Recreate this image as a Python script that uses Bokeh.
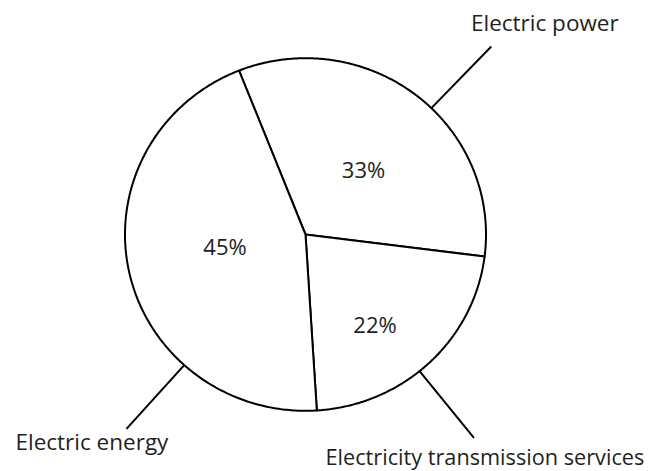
import math
import numpy as np
from bokeh.plotting import figure
from bokeh.models import Range1d
from bokeh.core.properties import value
from bokeh.embed import file_html
from bokeh.resources import INLINE

# Data
categories = ["Electric power", "Electricity transmission services", "Electric energy"]
shares = [33, 22, 45]
pct_labels = ["33%", "22%", "45%"]

# Layout (pixel space of the canvas, y grows downward)
W, H = 658, 471
CX, CY = 305.0, 234.0          # pie centre
RX, RY = 180.5, 176.3          # pie radii
START_DEG = 111.6              # first slice boundary; slices run clockwise
FONT = value("Open Sans")
TEXT_COLOR = "#231f20"

# per-category annotation layout
leader_angle = {"Electric power": 45.8,
                "Electricity transmission services": -50.8,
                "Electric energy": 227.8}
LEADER_LEN = 86.0
name_pos = {"Electric power": (470.5, 22.0),
            "Electricity transmission services": (325.0, 456.0),
            "Electric energy": (15.0, 440.5)}
name_size = {"Electric power": "22.5px",
             "Electricity transmission services": "21.7px",
             "Electric energy": "22.5px"}
pct_pos = {"Electric power": (363.0, 168.0),
           "Electricity transmission services": (374.5, 323.0),
           "Electric energy": (224.5, 245.0)}

p = figure(width=W, height=H, x_range=Range1d(0, W), y_range=Range1d(H, 0),
           output_backend="svg", toolbar_location=None, min_border=0,
           x_axis_location=None, y_axis_location=None)
p.grid.visible = False
p.outline_line_color = None
p.background_fill_color = "white"
p.border_fill_color = "white"


def on_rim(angle_deg):
    a = math.radians(angle_deg)
    return CX + RX * math.cos(a), CY - RY * math.sin(a)


# slices
xs, ys = [], []
a0 = START_DEG
for s in shares:
    a1 = a0 - 360.0 * s / 100.0
    angs = np.radians(np.linspace(a0, a1, 240))
    xs.append([CX] + list(CX + RX * np.cos(angs)))
    ys.append([CY] + list(CY - RY * np.sin(angs)))
    a0 = a1
p.patches(xs, ys, fill_color="white", line_color="black", line_width=2,
          line_join="round")

# leader lines
lx, ly = [], []
for c in categories:
    x0, y0 = on_rim(leader_angle[c])
    a = math.radians(leader_angle[c])
    lx.append([x0, x0 + LEADER_LEN * math.cos(a)])
    ly.append([y0, y0 - LEADER_LEN * math.sin(a)])
p.multi_line(lx, ly, line_color="black", line_width=2)

# category names
for c in categories:
    p.text(x=[name_pos[c][0]], y=[name_pos[c][1]], text=[c],
           text_font=FONT, text_font_size=name_size[c],
           text_color=TEXT_COLOR, text_align="left", text_baseline="alphabetic")

# percentage labels
p.text(x=[pct_pos[c][0] for c in categories], y=[pct_pos[c][1] for c in categories],
       text=pct_labels, text_font=FONT, text_font_size="22px",
       text_color=TEXT_COLOR, text_align="center", text_baseline="middle")

open("out.html", "w").write(file_html(p, INLINE))
